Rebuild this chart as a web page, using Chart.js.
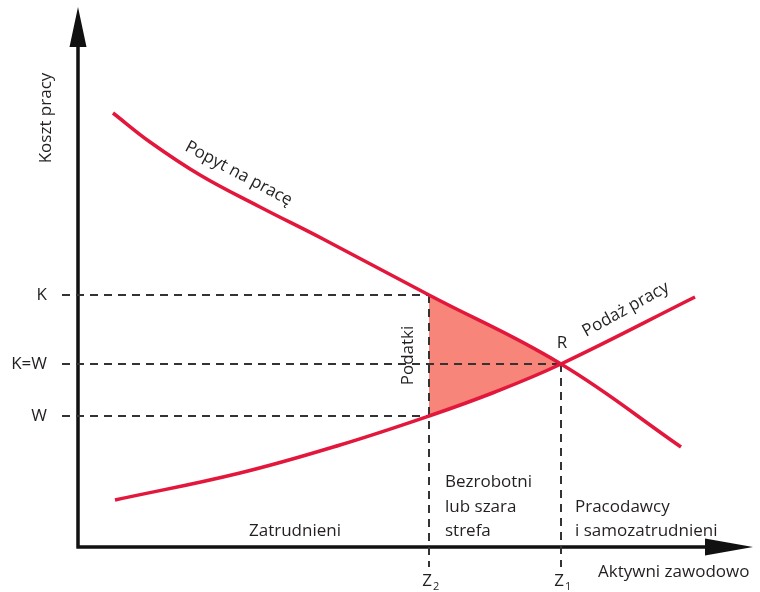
<!DOCTYPE html>
<html lang="pl">
<head>
<meta charset="utf-8">
<title>Koszt pracy</title>
<script src="https://cdn.jsdelivr.net/npm/chart.js@4.4.1/dist/chart.umd.min.js"></script>
<style>
  html, body { margin: 0; padding: 0; background: #fff; }
  canvas { display: block; }
</style>
</head>
<body>
<canvas id="chart" width="760" height="592"></canvas>
<script>
// DATA (units counted from the corner of the axes)

// Popyt na pracę
const demandX = [35, 72, 122, 182, 245, 351, 483, 603];
const demandY = [434, 405, 372, 340, 308, 252, 183, 100];

// Podaż pracy
const supplyX = [37, 162, 262, 351, 417, 483, 617];
const supplyY = [47, 74, 102, 131, 155, 183, 250];

// levels on the cost axis
const levelLabels = ['K', 'K=W', 'W'];
const levelValues = [252, 183, 131];

// points on the x axis
const zNames = ['Z', 'Z'];
const zSubs = ['2', '1'];
const zValues = [351, 483];

const RED = '#e2173b';
const INK = '#231f20';
const FONT = '"Open Sans", "Liberation Sans", sans-serif';

const pts = (xs, ys) => xs.map((x, i) => ({ x: x, y: ys[i] }));

// tax wedge: demand from Z2 to Z1, then supply back to Z2
const inWedge = p => p.x >= zValues[0] && p.x <= zValues[1];
const taxArea = pts(demandX, demandY).filter(inWedge)
    .concat(pts(supplyX, supplyY).filter(inWedge).reverse());

function dashed(data) {
    return {
        data: data,
        borderColor: '#333',
        borderWidth: 2,
        borderDash: [8, 6],
        pointRadius: 0,
        tension: 0,
        clip: false,
        order: 5
    };
}

const K = levelValues[0], KW = levelValues[1], W = levelValues[2];
const Z2 = zValues[0], Z1 = zValues[1];

const datasets = [
    {   // Podatki
        data: taxArea,
        borderWidth: 0,
        backgroundColor: '#f7857a',
        fill: 'shape',
        pointRadius: 0,
        tension: 0,
        order: 10
    },
    dashed([{ x: -16, y: K }, { x: Z2, y: K }]),
    dashed([{ x: -16, y: KW }, { x: Z1, y: KW }]),
    dashed([{ x: -16, y: W }, { x: Z2, y: W }]),
    dashed([{ x: Z2, y: K }, { x: Z2, y: -20 }]),
    dashed([{ x: Z1, y: KW }, { x: Z1, y: -20 }]),
    {
        data: pts(demandX, demandY),
        borderColor: RED,
        borderWidth: 3.5,
        pointRadius: 0,
        tension: 0.4,
        order: 0
    },
    {
        data: pts(supplyX, supplyY),
        borderColor: RED,
        borderWidth: 3.5,
        pointRadius: 0,
        tension: 0.4,
        order: 0
    }
];

// axes, arrows and all the labels
const drawings = {
    id: 'drawings',
    beforeDatasetsDraw(chart) {
        const ctx = chart.ctx;
        const x0 = chart.scales.x.getPixelForValue(0);
        const y0 = chart.scales.y.getPixelForValue(0);
        const top = chart.chartArea.top;
        const right = chart.chartArea.right;
        ctx.save();
        ctx.strokeStyle = '#111';
        ctx.fillStyle = '#111';
        ctx.lineWidth = 3.5;
        ctx.beginPath();
        ctx.moveTo(x0, y0 + 1.5);
        ctx.lineTo(x0, top + 38);
        ctx.moveTo(x0 - 1.5, y0);
        ctx.lineTo(right - 46, y0);
        ctx.stroke();
        // arrow heads
        ctx.beginPath();
        ctx.moveTo(x0, top);
        ctx.lineTo(x0 - 8.5, top + 40);
        ctx.lineTo(x0 + 8.5, top + 40);
        ctx.closePath();
        ctx.moveTo(right, y0);
        ctx.lineTo(right - 48, y0 - 8.5);
        ctx.lineTo(right - 48, y0 + 8.5);
        ctx.closePath();
        ctx.fill();
        ctx.restore();
    },
    afterDatasetsDraw(chart) {
        const ctx = chart.ctx;
        const sx = chart.scales.x, sy = chart.scales.y;
        const px = v => sx.getPixelForValue(v);
        const py = v => sy.getPixelForValue(v);
        const x0 = px(0), y0 = py(0);

        ctx.save();
        ctx.fillStyle = INK;
        ctx.font = '17px ' + FONT;

        function rotated(text, x, y, angle, align, base) {
            ctx.save();
            ctx.translate(x, y);
            ctx.rotate(angle * Math.PI / 180);
            ctx.textAlign = align;
            ctx.textBaseline = base;
            ctx.fillText(text, 0, 0);
            ctx.restore();
        }

        // axis titles
        rotated('Koszt pracy', x0 - 32, 118, -90, 'center', 'middle');
        ctx.textAlign = 'left';
        ctx.textBaseline = 'alphabetic';
        ctx.fillText('Aktywni zawodowo', 598, y0 + 30);

        // levels
        ctx.textAlign = 'right';
        ctx.textBaseline = 'middle';
        levelLabels.forEach((t, i) => ctx.fillText(t, x0 - 31, py(levelValues[i])));

        // Z points
        zValues.forEach((v, i) => {
            ctx.font = '17px ' + FONT;
            ctx.textAlign = 'center';
            ctx.textBaseline = 'alphabetic';
            ctx.fillText(zNames[i], px(v) - 2, y0 + 39);
            ctx.font = '11px ' + FONT;
            ctx.textAlign = 'left';
            ctx.fillText(zSubs[i], px(v) + 4, y0 + 43);
        });
        ctx.font = '17px ' + FONT;

        // curve names
        rotated('Popyt na pracę', px(106), py(397), 28, 'left', 'alphabetic');
        rotated('Podaż pracy', px(508), py(210), -29, 'left', 'alphabetic');

        // R and Podatki
        ctx.textAlign = 'center';
        ctx.textBaseline = 'middle';
        ctx.fillText('R', px(Z1) + 1, py(KW) - 21);
        rotated('Podatki', px(Z2) - 21, (py(K) + py(W)) / 2, -90, 'center', 'middle');

        // groups under the curves
        ctx.textAlign = 'center';
        ctx.textBaseline = 'alphabetic';
        ctx.fillText('Zatrudnieni', 295, y0 - 11);
        ctx.textAlign = 'left';
        ['Bezrobotni', 'lub szara', 'strefa'].forEach((t, i) =>
            ctx.fillText(t, px(Z2) + 16, y0 - 60 + i * 24.5));
        ['Pracodawcy', 'i samozatrudnieni'].forEach((t, i) =>
            ctx.fillText(t, px(Z1) + 14, y0 - 35.5 + i * 24.5));
        ctx.restore();
    }
};

new Chart(document.getElementById('chart'), {
    type: 'line',
    data: { datasets: datasets },
    options: {
        responsive: false,
        animation: false,
        devicePixelRatio: 1,
        events: [],
        layout: { padding: { left: 78, top: 7, right: 7, bottom: 45 } },
        plugins: {
            legend: { display: false },
            tooltip: { enabled: false }
        },
        scales: {
            x: { type: 'linear', min: 0, max: 675, display: false },
            y: { type: 'linear', min: 0, max: 540, display: false }
        }
    },
    plugins: [drawings]
});
</script>
</body>
</html>
